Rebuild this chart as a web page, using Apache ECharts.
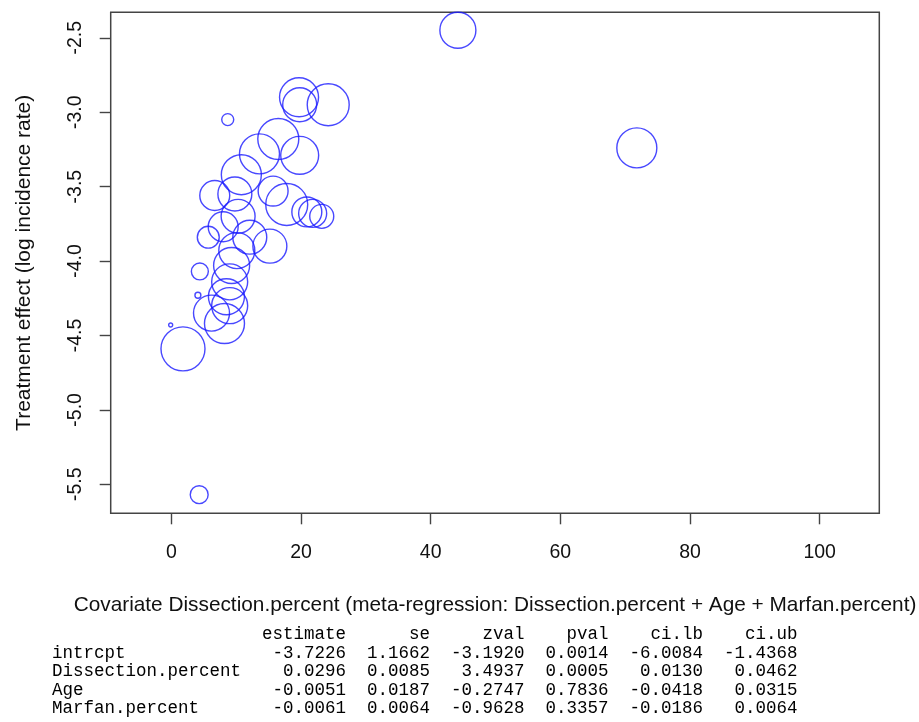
<!DOCTYPE html>
<html>
<head>
<meta charset="utf-8">
<script src="https://cdn.jsdelivr.net/npm/echarts@6/dist/echarts.min.js"></script>
<style>
  html, body { margin: 0; padding: 0; background: #fff; }
  #main { width: 919px; height: 722px; }
</style>
</head>
<body>
<div id="main"></div>
<script>
// studies: covariate value, treatment effect, study weight (bubble area)
var dissectionPct = [44.2, 71.8, 19.7, 24.2, 19.8, 8.7, 16.5, 19.8, 13.6, 10.8,
                     6.7, 9.8, 15.7, 17.8, 20.9, 21.8, 23.2, 10.3, 8.0, 5.7,
                     10.1, 15.2, 12.1, 9.3, 4.4, 9.0, 4.1, 8.5, 9.0, 6.2,
                     8.2, -0.1, 1.8, 4.3];
var logRate = [-2.45, -3.24, -2.90, -2.95, -2.95, -3.05, -3.18, -3.29, -3.28, -3.42,
               -3.56, -3.55, -3.53, -3.62, -3.67, -3.68, -3.70, -3.70, -3.77, -3.84,
               -3.93, -3.90, -3.84, -4.03, -4.07, -4.14, -4.23, -4.24, -4.30, -4.35,
               -4.42, -4.43, -4.59, -5.57];
var studyWeight = [8.1, 10.0, 9.5, 11.0, 7.2, 0.9, 10.5, 9.0, 10.0, 10.0,
                   5.6, 7.2, 5.6, 11.0, 5.6, 4.9, 3.6, 7.2, 5.6, 3.0,
                   8.1, 7.2, 7.2, 8.1, 1.8, 8.1, 0.22, 8.1, 8.1, 8.1,
                   10.0, 0.1, 12.1, 2.0];

var xTicks = [0, 20, 40, 60, 80, 100];
var yTicks = [-5.5, -5.0, -4.5, -4.0, -3.5, -3.0, -2.5];

// meta-regression output table
var tableRows = ['intrcpt', 'Dissection.percent', 'Age', 'Marfan.percent'];
var tableCols = ['estimate', 'se', 'zval', 'pval', 'ci.lb', 'ci.ub'];
var estimate = [-3.7226, 0.0296, -0.0051, -0.0061];
var se       = [1.1662, 0.0085, 0.0187, 0.0064];
var zval     = [-3.1920, 3.4937, -0.2747, -0.9628];
var pval     = [0.0014, 0.0005, 0.7836, 0.3357];
var ciLb     = [-6.0084, 0.0130, -0.0418, -0.0186];
var ciUb     = [-1.4368, 0.0462, 0.0315, 0.0064];

function pad(s, n, right) {
  while (s.length < n) s = right ? s + ' ' : ' ' + s;
  return s;
}

// build the printed table like R does
var colVals = [estimate, se, zval, pval, ciLb, ciUb];
var nameW = Math.max.apply(null, tableRows.map(function (r) { return r.length; }));
var colW = colVals.map(function (vals, i) {
  var w = tableCols[i].length;
  vals.forEach(function (v) { w = Math.max(w, v.toFixed(4).length); });
  return w;
});
var lines = [];
var head = pad('', nameW, true);
tableCols.forEach(function (c, i) { head += '  ' + pad(c, colW[i]); });
lines.push(head);
tableRows.forEach(function (r, j) {
  var s = pad(r, nameW, true);
  colVals.forEach(function (vals, i) { s += '  ' + pad(vals[j].toFixed(4), colW[i]); });
  lines.push(s);
});

var points = dissectionPct.map(function (x, i) {
  return [x, logRate[i], studyWeight[i]];
});

var myChart = echarts.init(document.getElementById('main'));
var option = {
  animation: false,
  backgroundColor: '#fff',
  grid: {
    left: 110.7,
    top: 12.3,
    width: 768.6,
    height: 501,
    outerBoundsMode: 'none',
    containLabel: false,
    show: true,
    borderColor: '#444',
    borderWidth: 1.5
  },
  xAxis: {
    type: 'value',
    min: -9.35,
    max: 109.2,
    axisLine: { show: false, onZero: false },
    splitLine: { show: false },
    axisTick: {
      show: true,
      length: 11,
      customValues: xTicks,
      lineStyle: { color: '#444', width: 1.4 }
    },
    axisLabel: {
      customValues: xTicks,
      margin: 29,
      fontSize: 19.5,
      fontFamily: 'Liberation Sans',
      color: '#111'
    },
    name: 'Covariate Dissection.percent (meta-regression: Dissection.percent + Age + Marfan.percent)',
    nameLocation: 'middle',
    nameGap: 81,
    nameTextStyle: { fontSize: 20.8, fontFamily: 'Liberation Sans', color: '#111' }
  },
  yAxis: {
    type: 'value',
    min: -5.695,
    max: -2.329,
    axisLine: { show: false, onZero: false },
    splitLine: { show: false },
    axisTick: {
      show: true,
      length: 11,
      customValues: yTicks,
      lineStyle: { color: '#444', width: 1.4 }
    },
    axisLabel: {
      customValues: yTicks,
      rotate: 90,
      margin: 25,
      fontSize: 19.5,
      fontFamily: 'Liberation Sans',
      color: '#111',
      formatter: function (v) { return v.toFixed(1); }
    },
    name: 'Treatment effect (log incidence rate)',
    nameLocation: 'middle',
    nameGap: 76,
    nameTextStyle: { fontSize: 21, fontFamily: 'Liberation Sans', color: '#111' }
  },
  series: [{
    type: 'scatter',
    data: points,
    symbol: 'circle',
    symbolSize: function (d) { return 12.65 * Math.sqrt(d[2]); },
    itemStyle: { color: 'rgba(0,0,0,0)', borderColor: '#1a1aff', borderWidth: 1.4 },
    emphasis: { disabled: true },
    silent: true
  }],
  graphic: [{
    type: 'text',
    left: 52,
    top: 625,
    style: {
      text: lines.join('\n'),
      font: '17.5px "Liberation Mono"',
      lineHeight: 18.6,
      fill: '#000'
    }
  }]
};
myChart.setOption(option);
</script>
</body>
</html>
